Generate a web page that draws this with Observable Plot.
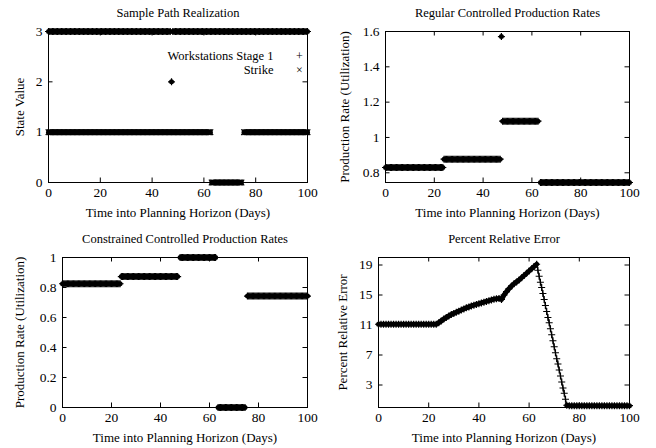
<!DOCTYPE html>
<html><head><meta charset="utf-8">
<script src="https://cdn.jsdelivr.net/npm/d3@7"></script>
<script src="https://cdn.jsdelivr.net/npm/@observablehq/plot@0.6"></script>
<style>
body{margin:0;background:#fff;}
#wrap{position:relative;width:656px;height:448px;overflow:hidden;}
#wrap > div{position:absolute;}
#wrap svg, #wrap svg text{font-family:"Liberation Serif", serif !important;}
#wrap svg text.sym{font-family:"DejaVu Sans", sans-serif !important;}
</style></head><body><div id="wrap">
<div id="p1" style="left:0;top:0"></div>
<div id="p2" style="left:328px;top:0"></div>
<div id="p3" style="left:0;top:224px"></div>
<div id="p4" style="left:328px;top:224px"></div>
</div>
<script>
// ---------- data ----------
const xTicks = [0, 20, 40, 60, 80, 100];
const xLabel = "Time into Planning Horizon (Days)";

// Panel 1: Sample Path Realization (piecewise-constant segments)
const workSegStart = [0, 47.5, 48];
const workSegEnd   = [47, 47.5, 100];
const workSegValue = [3, 2, 3];
const strikeSegStart = [0, 63, 75.5];
const strikeSegEnd   = [62.5, 74.5, 100];
const strikeSegValue = [1, 0, 1];
const stateTicks = [0, 1, 2, 3];

// Panel 2: Regular Controlled Production Rates
const regSegStart = [0, 24, 47.5, 48, 63.5];
const regSegEnd   = [23.5, 47, 47.5, 62.5, 100];
const regSegValue = [0.83, 0.877, 1.571, 1.092, 0.745];
const regTicks = [0.8, 1, 1.2, 1.4, 1.6];

// Panel 3: Constrained Controlled Production Rates
const conSegStart = [0, 24, 48, 63.5, 75.5];
const conSegEnd   = [23.5, 47, 62.5, 74.5, 100];
const conSegValue = [0.825, 0.873, 1.0, 0, 0.743];
const conTicks = [0, 0.2, 0.4, 0.6, 0.8, 1];

// Panel 4: Percent Relative Error
const errDays = [
  0,1,2,3,4,5,6,7,8,9,10,11,12,13,14,15,16,17,18,19,20,21,22,23,
  24,25,26,27,28,29,30,31,32,33,34,35,36,37,38,39,40,41,42,43,44,45,46,47,48,
  49,50,51,52,53,54,55,56,57,58,59,60,61,62,63,
  63.5,64,64.5,65,65.5,66,66.5,67,67.5,68,68.5,69,69.5,70,70.5,71,71.5,72,72.5,73,73.5,74,74.5,75,
  76,77,78,79,80,81,82,83,84,85,86,87,88,89,90,91,92,93,94,95,96,97,98,99,100
];
const errValues = [
  11.1,11.1,11.1,11.1,11.1,11.1,11.1,11.1,11.1,11.1,11.1,11.1,11.1,11.1,11.1,11.1,11.1,11.1,11.1,11.1,11.1,11.1,11.1,11.1,
  11.3,11.55,11.8,12.0,12.2,12.4,12.55,12.7,12.85,13.0,13.15,13.3,13.4,13.55,13.65,13.75,13.85,13.95,14.05,14.15,14.25,14.35,14.45,14.5,14.55,
  14.4,15.0,15.45,15.85,16.2,16.5,16.75,17.0,17.3,17.6,17.9,18.2,18.5,18.8,19.1,
  18.3,17.5,16.7,16.0,15.2,14.4,13.6,12.8,12.0,11.3,10.5,9.7,8.9,8.1,7.3,6.5,5.8,5.0,4.2,3.4,2.6,1.9,1.1,0.3,
  0.25,0.25,0.25,0.25,0.25,0.25,0.25,0.25,0.25,0.25,0.25,0.25,0.25,0.25,0.25,0.25,0.25,0.25,0.25,0.25,0.25,0.25,0.25,0.25,0.25
];
const errTicks = [3, 7, 11, 15, 19];

// ---------- helpers ----------
const W = 328, H = 224;
const FONT = "Liberation Serif, serif";
const STEP = 0.5;

function expand(starts, ends, values) {
  const out = [];
  starts.forEach((s, i) => {
    for (let t = s; t <= ends[i] + 1e-9; t += STEP) out.push({t, v: values[i], seg: i});
  });
  return out;
}
const plusSym = {draw(ctx, size) {
  const r = Math.sqrt(size / Math.PI);
  ctx.moveTo(-r, 0); ctx.lineTo(r, 0); ctx.moveTo(0, -r); ctx.lineTo(0, r);
}};
const crossSym = {draw(ctx, size) {
  const r = Math.sqrt(size / Math.PI) * 0.8;
  ctx.moveTo(-r, -r); ctx.lineTo(r, r); ctx.moveTo(-r, r); ctx.lineTo(r, -r);
}};

function stepMarks(data, sym) {
  return [
    Plot.line(data, {x: "t", y: "v", z: "seg", stroke: "black", strokeWidth: 5}),
    Plot.dot(data, {x: "t", y: "v", symbol: sym, r: 3.5, stroke: "black", fill: "none", strokeWidth: 1.2})
  ];
}

function panel(id, o) {
  const innerW = W - o.ml - o.mr, innerH = H - o.mt - o.mb;
  const TL = 4.5;
  const chart = Plot.plot({
    width: W, height: H,
    marginLeft: o.ml, marginRight: o.mr, marginTop: o.mt, marginBottom: o.mb,
    x: {domain: [0, 100]},
    y: {domain: o.yDomain},
    style: {fontFamily: FONT, fontSize: "13px", color: "black", background: "white", overflow: "visible"},
    marks: [
      ...o.marks,
      Plot.ruleX(xTicks, {x: d => d, insetTop: innerH - TL, stroke: "black"}),
      Plot.ruleX(xTicks, {x: d => d, insetBottom: innerH - TL, stroke: "black"}),
      Plot.ruleY(o.yTicks, {y: d => d, insetRight: innerW - TL, stroke: "black"}),
      Plot.ruleY(o.yTicks, {y: d => d, insetLeft: innerW - TL, stroke: "black"}),
      Plot.frame({stroke: "black"}),
      Plot.axisX({ticks: xTicks, tickSize: 0, tickPadding: 5, label: null, fontSize: 13.5}),
      Plot.axisY({ticks: o.yTicks, tickSize: 0, tickPadding: 6, label: null, fontSize: 13.5, tickFormat: o.fmt || (d => String(d))}),
      Plot.text([o.title], {text: d => d, frameAnchor: "top", dy: -19, textAnchor: "middle", lineAnchor: "middle", fontSize: 12.5}),
      Plot.text([xLabel], {text: d => d, frameAnchor: "bottom", dy: 30, textAnchor: "middle", lineAnchor: "middle", fontSize: 13}),
      Plot.text([o.ylabel], {text: d => d, frameAnchor: "left", dx: -o.yOff, rotate: -90, textAnchor: "middle", lineAnchor: "middle", fontSize: 13}),
      ...(o.extra || [])
    ]
  });
  document.getElementById(id).appendChild(chart);
}

// ---------- panels ----------
const work = expand(workSegStart, workSegEnd, workSegValue);
const strike = expand(strikeSegStart, strikeSegEnd, strikeSegValue);
panel("p1", {
  ml: 48, mr: 21, mt: 31, mb: 42, yDomain: [0, 3], yTicks: stateTicks,
  title: "Sample Path Realization", ylabel: "State Value", yOff: 29,
  marks: [...stepMarks(work, plusSym), ...stepMarks(strike, crossSym)],
  extra: [
    Plot.text(["Workstations Stage 1"], {text: d => d, frameAnchor: "top-right", dx: -34, dy: 24.5, textAnchor: "end", lineAnchor: "middle", fontSize: 12.5}),
    Plot.text(["Strike"], {text: d => d, frameAnchor: "top-right", dx: -34, dy: 38.5, textAnchor: "end", lineAnchor: "middle", fontSize: 12.5}),
    Plot.text(["+"], {text: d => d, frameAnchor: "top-right", dx: -8, dy: 24.5, textAnchor: "middle", lineAnchor: "middle", fontSize: 12, className: "sym"}),
    Plot.text(["×"], {text: d => d, frameAnchor: "top-right", dx: -8, dy: 38.5, textAnchor: "middle", lineAnchor: "middle", fontSize: 12, className: "sym"})
  ]
});

const reg = expand(regSegStart, regSegEnd, regSegValue);
panel("p2", {
  ml: 57, mr: 27, mt: 31, mb: 42, yDomain: [0.745, 1.6], yTicks: regTicks,
  title: "Regular Controlled Production Rates", ylabel: "Production Rate (Utilization)", yOff: 41,
  marks: stepMarks(reg, plusSym)
});

const con = expand(conSegStart, conSegEnd, conSegValue);
panel("p3", {
  ml: 62, mr: 21, mt: 33, mb: 41, yDomain: [0, 1], yTicks: conTicks,
  title: "Constrained Controlled Production Rates", ylabel: "Production Rate (Utilization)", yOff: 43,
  marks: stepMarks(con, plusSym)
});

const err = errDays.map((t, i) => ({t, v: errValues[i]}));
panel("p4", {
  ml: 50, mr: 27, mt: 33, mb: 41, yDomain: [0, 20], yTicks: errTicks,
  title: "Percent Relative Error", ylabel: "Percent Relative Error", yOff: 36,
  marks: [
    Plot.line(err.filter(d => d.t <= 63), {x: "t", y: "v", stroke: "black", strokeWidth: 5}),
    Plot.line(err.filter(d => d.t >= 75), {x: "t", y: "v", stroke: "black", strokeWidth: 5}),
    Plot.line(err.filter(d => d.t >= 63 && d.t <= 75), {x: "t", y: "v", stroke: "black", strokeWidth: 1.2}),
    Plot.dot(err, {x: "t", y: "v", symbol: plusSym, r: 3.5, stroke: "black", fill: "none", strokeWidth: 1.2})
  ]
});
</script>
</body></html>
